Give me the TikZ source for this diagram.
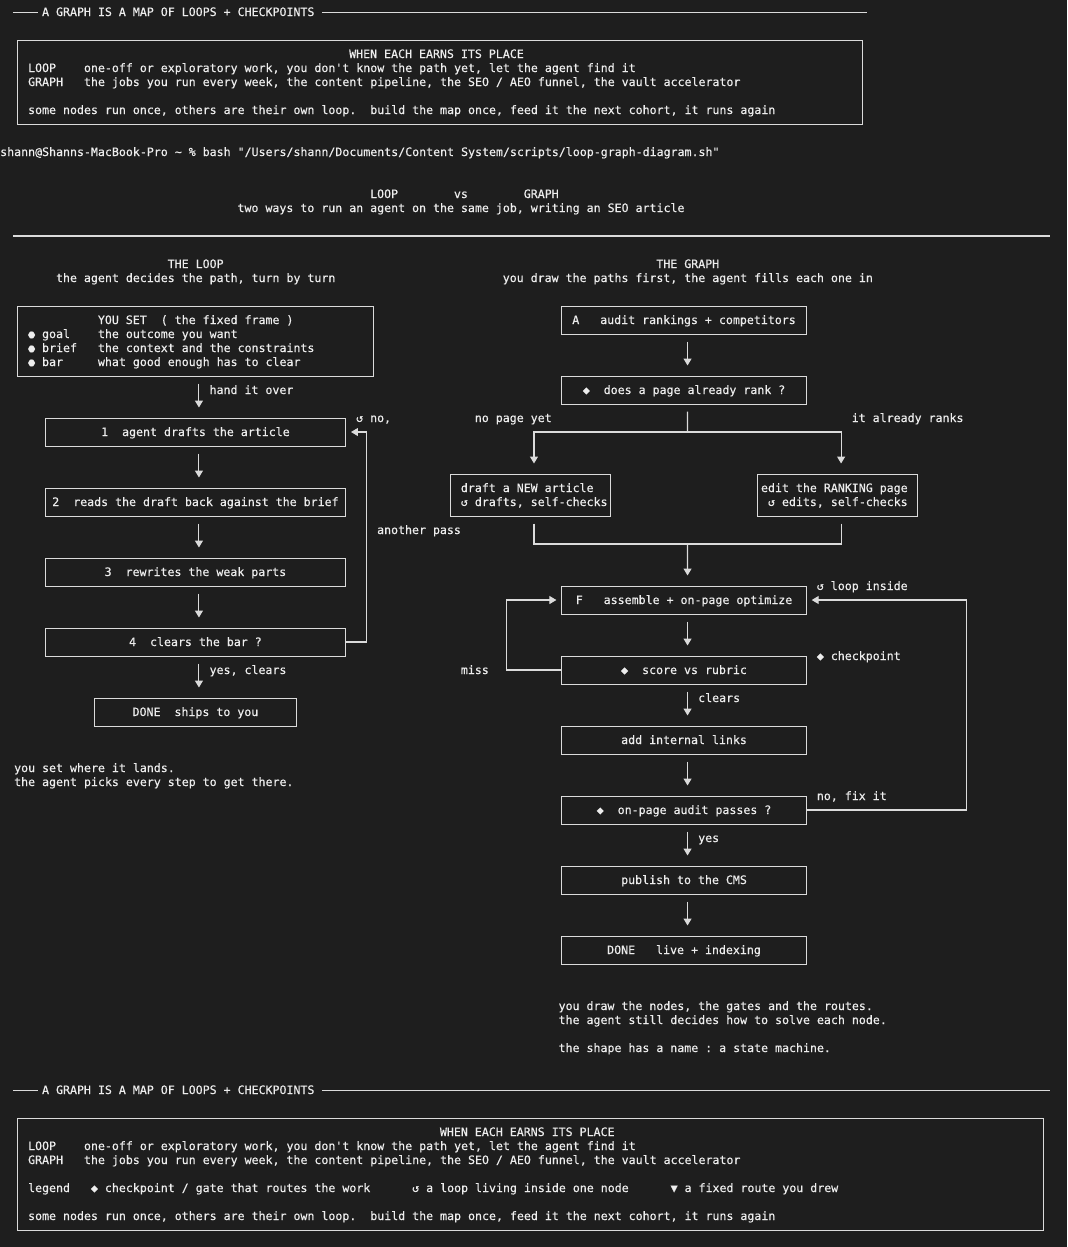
\documentclass[tikz,border=0pt]{standalone}
\usepackage{fontspec}
\setmonofont[FakeBold=0.4]{DejaVu Sans Mono}
\usetikzlibrary{arrows.meta}
\pgfdeclarelayer{background layer}
\pgfsetlayers{background layer,main}
\definecolor{bkg}{rgb}{0.118,0.118,0.118}
\definecolor{fg}{rgb}{0.93,0.93,0.93}
\definecolor{edge}{rgb}{0.86,0.86,0.86}
\frenchspacing

\begin{document}
\begin{tikzpicture}[x=6.98pt,y=-14pt]
\tikzstyle{txt}=[anchor=base west,inner sep=0,yshift=-4pt,text=fg,font=\ttfamily\fontsize{11.6}{14}\selectfont]
\tikzstyle{box}=[draw=edge,line width=1pt,inner sep=0,text=fg,text height=9pt,text depth=1pt,font=\ttfamily\fontsize{11.6}{14}\selectfont]
\tikzstyle{rule}=[draw=edge,line width=1pt]
\tikzstyle{heavyrule}=[draw=edge,line width=1.8pt]
\tikzstyle{route}=[draw=edge,line width=1.1pt]
\tikzstyle{arrow}=[route,-{Triangle[width=8pt,length=7pt]},shorten <=7pt,shorten >=10pt]
\tikzstyle{loopback}=[route,-{Triangle[width=8pt,length=7pt]},shorten >=5pt]
\node [txt] (bannertop) at (5.5,0) {A GRAPH IS A MAP OF LOOPS + CHECKPOINTS};
\draw [rule] (1.35,0) -- (4.95,0);
\draw [rule] (45.6,0) -- (123.7,0);
\node [box,minimum width=844.6pt,minimum height=84pt] (infotop) at (62.5,5) {};
\node [txt] (earnstop) at (49.5,3) {WHEN EACH EARNS ITS PLACE};
\node [txt] (looptop) at (3.5,4) {LOOP~~~~one-off or exploratory work, you don't know the path yet, let the agent find it};
\node [txt] (graphtop) at (3.5,5) {GRAPH~~~the jobs you run every week, the content pipeline, the SEO / AEO funnel, the vault accelerator};
\node [txt] (oncetop) at (3.5,7) {some nodes run once, others are their own loop.~~build the map once, feed it the next cohort, it runs again};
\node [txt] (prompt) at (-0.5,10) {shann@Shanns-MacBook-Pro \string~ \% bash "/Users/shann/Documents/Content System/scripts/loop-graph-diagram.sh"};
\node [txt] (versus) at (52.5,13) {LOOP~~~~~~~~vs~~~~~~~~GRAPH};
\node [txt] (twoways) at (33.5,14) {two ways to run an agent on the same job, writing an SEO article};
\draw [heavyrule] (1.4,16) -- (149.9,16);
\node [txt] (loophead) at (23.5,18) {THE LOOP};
\node [txt] (loopsub) at (7.5,19) {the agent decides the path, turn by turn};
\node [txt] (graphhead) at (93.5,18) {THE GRAPH};
\node [txt] (graphsub) at (71.5,19) {you draw the paths first, the agent fills each one in};
\node [box,minimum width=356pt,minimum height=70pt] (set) at (27.5,23.5) {};
\node [txt] (sethead) at (13.5,22) {YOU SET~~(~the fixed frame~)};
\node [txt] (goal) at (3.5,23) {● goal~~~~the outcome you want};
\node [txt] (brief) at (3.5,24) {● brief~~~the context and the constraints};
\node [txt] (bar) at (3.5,25) {● bar~~~~~what good enough has to clear};
\node [box,minimum width=300.1pt,minimum height=28pt] (s1) at (27.5,30) {1~~agent drafts the article};
\node [box,minimum width=300.1pt,minimum height=28pt] (s2) at (27.5,35) {2~~reads the draft back against the brief};
\node [box,minimum width=300.1pt,minimum height=28pt] (s3) at (27.5,40) {3~~rewrites the weak parts};
\node [box,minimum width=300.1pt,minimum height=28pt] (s4) at (27.5,45) {4~~clears the bar ?};
\node [box,minimum width=202.4pt,minimum height=28pt] (ships) at (27.5,50) {DONE~~ships to you};
\draw [arrow] ([xshift=3.5pt]set.south) -- ([xshift=3.5pt]s1.north);
\draw [arrow] ([xshift=3.5pt]s1.south) -- ([xshift=3.5pt]s2.north);
\draw [arrow] ([xshift=3.5pt]s2.south) -- ([xshift=3.5pt]s3.north);
\draw [arrow] ([xshift=3.5pt]s3.south) -- ([xshift=3.5pt]s4.north);
\draw [arrow] ([xshift=3.5pt]s4.south) -- ([xshift=3.5pt]ships.north);
\coordinate (againturn) at (52,30);
\draw [loopback] (s4.east) -| (againturn) -- (s1.east);
\node [txt] (handover) at (29.5,27) {hand it over};
\node [txt] (nolbl) at (50.5,29) {↺ no,};
\node [txt] (passlbl) at (53.5,37) {another pass};
\node [txt] (yeslbl) at (29.5,47) {yes, clears};
\node [txt] (lands) at (1.5,54) {you set where it lands.};
\node [txt] (picks) at (1.5,55) {the agent picks every step to get there.};
\node [box,minimum width=244.3pt,minimum height=28pt] (audit) at (97.5,22) {A~~~audit rankings + competitors};
\node [box,minimum width=244.3pt,minimum height=28pt] (rank) at (97.5,27) {◆~~does a page already rank ?};
\node [box,minimum width=160.5pt,minimum height=42pt] (new) at (75.5,34.5) {};
\node [txt] (newa) at (65.5,34) {draft a NEW article};
\node [txt] (newb) at (65.5,35) {↺ drafts, self-checks};
\node [box,minimum width=160.5pt,minimum height=42pt] (edit) at (119.5,34.5) {};
\node [txt] (edita) at (108.5,34) {edit the RANKING page};
\node [txt] (editb) at (109.5,35) {↺ edits, self-checks};
\node [box,minimum width=244.3pt,minimum height=28pt] (F) at (97.5,42) {F~~~assemble + on-page optimize};
\node [box,minimum width=244.3pt,minimum height=28pt] (score) at (97.5,47) {◆~~score vs rubric};
\node [box,minimum width=244.3pt,minimum height=28pt] (links) at (97.5,52) {add internal links};
\node [box,minimum width=244.3pt,minimum height=28pt] (passes) at (97.5,57) {◆~~on-page audit passes ?};
\node [box,minimum width=244.3pt,minimum height=28pt] (publish) at (97.5,62) {publish to the CMS};
\node [box,minimum width=244.3pt,minimum height=28pt] (live) at (97.5,67) {DONE~~~live + indexing};
\draw [arrow] ([xshift=3.5pt]audit.south) -- ([xshift=3.5pt]rank.north);
\coordinate (fork) at (98,30);
\draw [route,shorten <=7pt] ([xshift=3.5pt]rank.south) -- (fork);
\draw [arrow,shorten <=0pt] (fork) -| ([xshift=3.5pt]new.north);
\draw [arrow,shorten <=0pt] (fork) -| ([xshift=3.5pt]edit.north);
\coordinate (join) at (98,38);
\draw [route,shorten <=7pt] ([xshift=3.5pt]new.south) |- (join);
\draw [route,shorten <=7pt] ([xshift=3.5pt]edit.south) |- (join);
\draw [arrow,shorten <=0pt] (join) -- ([xshift=3.5pt]F.north);
\draw [arrow] ([xshift=3.5pt]F.south) -- ([xshift=3.5pt]score.north);
\draw [arrow] ([xshift=3.5pt]score.south) -- ([xshift=3.5pt]links.north);
\draw [arrow] ([xshift=3.5pt]links.south) -- ([xshift=3.5pt]passes.north);
\draw [arrow] ([xshift=3.5pt]passes.south) -- ([xshift=3.5pt]publish.north);
\draw [arrow] ([xshift=3.5pt]publish.south) -- ([xshift=3.5pt]live.north);
\coordinate (missturn) at (72,42);
\draw [loopback] (score.west) -| (missturn) -- (F.west);
\coordinate (fixturn) at (138,42);
\draw [loopback] (passes.east) -| (fixturn) -- (F.east);
\node [txt] (nopage) at (67.5,29) {no page yet};
\node [txt] (ranks) at (121.5,29) {it already ranks};
\node [txt] (inside) at (116.5,41) {↺ loop inside};
\node [txt] (checklbl) at (116.5,46) {◆ checkpoint};
\node [txt] (misslbl) at (65.5,47) {miss};
\node [txt] (clearslbl) at (99.5,49) {clears};
\node [txt] (fixlbl) at (116.5,56) {no, fix it};
\node [txt] (yes) at (99.5,59) {yes};
\node [txt] (drawnodes) at (79.5,71) {you draw the nodes, the gates and the routes.};
\node [txt] (solves) at (79.5,72) {the agent still decides how to solve each node.};
\node [txt] (shape) at (79.5,74) {the shape has a name : a state machine.};
\node [txt] (bannerbot) at (5.5,77) {A GRAPH IS A MAP OF LOOPS + CHECKPOINTS};
\draw [rule] (1.35,77) -- (4.95,77);
\draw [rule] (45.6,77) -- (149.9,77);
\node [box,minimum width=1026.1pt,minimum height=112pt] (infobot) at (75.5,83) {};
\node [txt] (earnsbot) at (62.5,80) {WHEN EACH EARNS ITS PLACE};
\node [txt] (loopbot) at (3.5,81) {LOOP~~~~one-off or exploratory work, you don't know the path yet, let the agent find it};
\node [txt] (graphbot) at (3.5,82) {GRAPH~~~the jobs you run every week, the content pipeline, the SEO / AEO funnel, the vault accelerator};
\node [txt] (legend) at (3.5,84) {legend~~~◆ checkpoint / gate that routes the work~~~~~~↺ a loop living inside one node~~~~~~▼ a fixed route you drew};
\node [txt] (oncebot) at (3.5,86) {some nodes run once, others are their own loop.~~build the map once, feed it the next cohort, it runs again};
\begin{pgfonlayer}{background layer}
\fill [bkg] (-0.5,-0.857) rectangle (152.37,88.214);
\end{pgfonlayer}
\end{tikzpicture}
\end{document}
